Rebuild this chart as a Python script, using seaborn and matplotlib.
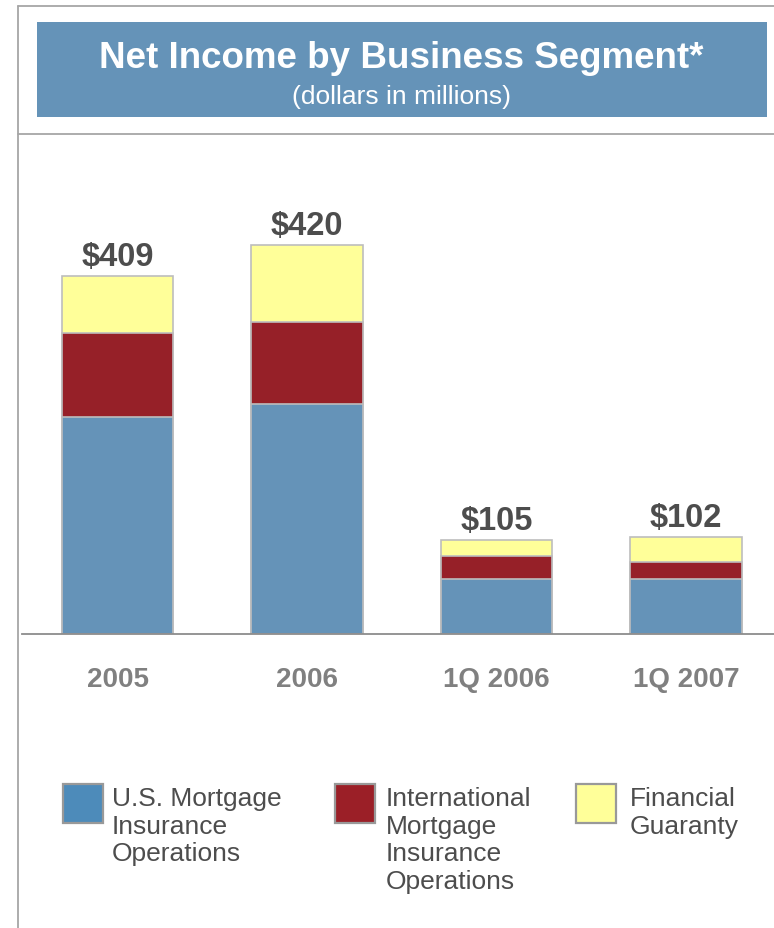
import matplotlib
matplotlib.use("Agg")
import matplotlib.pyplot as plt
import seaborn as sns
import numpy as np
from matplotlib.patches import Rectangle
from matplotlib.lines import Line2D

# ---- data (dollars in millions) ----
categories = ["2005", "2006", "1Q 2006", "1Q 2007"]
us_mortgage = [248, 263, 63, 63]
intl_mortgage = [96, 93, 26, 19]
financial_guaranty = [65, 89, 18, 29]
total_labels = ["$409", "$420", "$105", "$102"]
segment_names = ["U.S. Mortgage\nInsurance\nOperations",
                 "International\nMortgage\nInsurance\nOperations",
                 "Financial\nGuaranty"]

BLUE = "#6593B8"
RED = "#962028"
YELLOW = "#FFFF99"
LEG_BLUE = "#4D8BBA"
LEG_RED = "#9B1F27"
EDGE = "#BDBDBD"
FRAME = "#A6A6A6"

sns.set_style("white")
plt.rcParams["font.family"] = ["Liberation Sans", "DejaVu Sans"]

W, H = 774, 929
fig = plt.figure(figsize=(W / 100, H / 100), dpi=100)

def fx(p):
    return p / W

def fy(p):
    return 1 - p / H

# frame lines
fig.add_artist(Line2D([fx(17.5), fx(17.5)], [fy(7), fy(929)], color=FRAME, lw=1.3))
fig.add_artist(Line2D([fx(17.5), 1], [fy(7), fy(7)], color=FRAME, lw=1.3))
fig.add_artist(Line2D([fx(17.5), 1], [fy(135), fy(135)], color=FRAME, lw=1.3))

# title box
fig.add_artist(Rectangle((fx(37), fy(118)), fx(767) - fx(37), fy(23) - fy(118),
                         facecolor=BLUE, edgecolor="none"))
fig.text(fx(401), fy(59), "Net Income by Business Segment*", color="white",
         fontsize=26.5, fontweight="bold", ha="center", va="center")
fig.text(fx(401.5), fy(97), "(dollars in millions)", color="white",
         fontsize=19, ha="center", va="center")

# bar axes: baseline at y=635 px, 0.875 px per $1M
ax_left, ax_right = 22, 774
ax_bottom, ax_top = 635, 140
ax = fig.add_axes([fx(ax_left), fy(ax_bottom), fx(ax_right) - fx(ax_left),
                   fy(ax_top) - fy(ax_bottom)])

cum1 = np.array(us_mortgage)
cum2 = cum1 + np.array(intl_mortgage)
cum3 = cum2 + np.array(financial_guaranty)

for vals, col in [(cum3, YELLOW), (cum2, RED), (cum1, BLUE)]:
    sns.barplot(x=categories, y=vals, order=categories, color=col, width=0.586,
                edgecolor=EDGE, linewidth=1.2, errorbar=None, saturation=1, ax=ax)

ax.set_xlim((ax_left - 117.5) / 189.5, (ax_right - 117.5) / 189.5)
ax.set_ylim(0, (ax_bottom - ax_top) / 0.875)

for i, lab in enumerate(total_labels):
    ax.annotate(lab, xy=(i, cum3[i]), xytext=(0, 8), textcoords="offset points",
                ha="center", va="baseline", fontsize=23.5, fontweight="bold",
                color="#4D4D4D")

for s in ["left", "right", "top"]:
    ax.spines[s].set_visible(False)
ax.spines["bottom"].set_color("#8C8C8C")
ax.spines["bottom"].set_linewidth(1.3)
ax.set_yticks([])
ax.set_xlabel("")
ax.set_ylabel("")
ax.tick_params(axis="x", length=0, pad=23, labelsize=20, labelcolor="#808080")
for t in ax.get_xticklabels():
    t.set_fontweight("bold")

# legend
leg_items = [(63, 112, LEG_BLUE, segment_names[0]),
             (335, 386, LEG_RED, segment_names[1]),
             (576, 630, YELLOW, segment_names[2])]
for sx, tx, col, name in leg_items:
    fig.add_artist(Rectangle((fx(sx), fy(824)), fx(sx + 40) - fx(sx), fy(785) - fy(824),
                             facecolor=col, edgecolor="#999999", lw=1.6))
    fig.text(fx(tx), fy(787), name, color="#4D4D4D", fontsize=19, ha="left",
             va="top", linespacing=1.19)

fig.savefig("out.png", dpi=100)
